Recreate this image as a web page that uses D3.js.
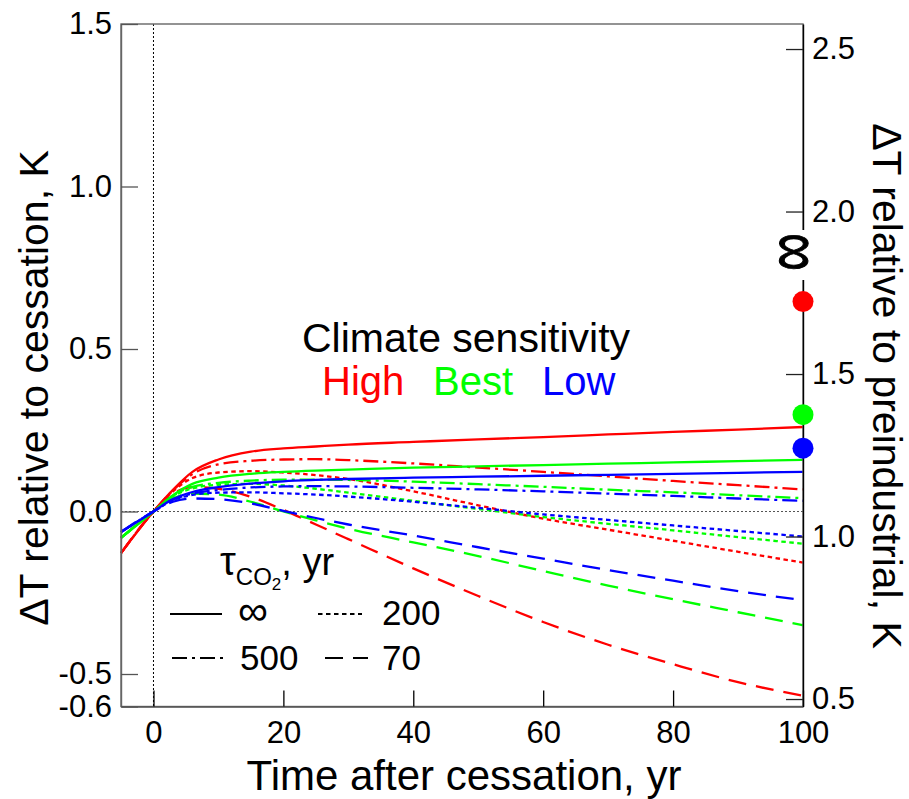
<!DOCTYPE html>
<html>
<head>
<meta charset="utf-8">
<script src="https://cdn.jsdelivr.net/npm/d3@7"></script>
<style>
  html, body { margin: 0; padding: 0; background: #fff; }
  svg { display: block; font-family: "Liberation Sans", Arial, Helvetica, sans-serif; }
</style>
</head>
<body>
<svg id="chart" width="909" height="799"></svg>
<script>
// ---------------- data ----------------
const years = [-5, 0, 3, 6, 10, 15, 20, 25, 30, 40, 50, 60, 70, 80, 90, 100];

// High climate sensitivity (red)
const highInf = [-0.128, 0, 0.067, 0.122, 0.160, 0.184, 0.194, 0.200, 0.206, 0.214, 0.222, 0.229, 0.237, 0.245, 0.252, 0.260];
const high500 = [-0.128, 0, 0.065, 0.115, 0.145, 0.156, 0.160, 0.161, 0.158, 0.148, 0.135, 0.122, 0.108, 0.094, 0.081, 0.068];
const high200 = [-0.128, 0, 0.062, 0.103, 0.120, 0.124, 0.120, 0.112, 0.100, 0.062, 0.019, -0.022, -0.056, -0.090, -0.124, -0.157];
const high70  = [-0.128, 0, 0.055, 0.075, 0.070, 0.045, 0.005, -0.040, -0.085, -0.175, -0.260, -0.340, -0.410, -0.470, -0.525, -0.567];

// Best estimate (green)
const bestInf = [-0.081, 0, 0.050, 0.085, 0.104, 0.116, 0.122, 0.126, 0.129, 0.135, 0.139, 0.143, 0.147, 0.151, 0.155, 0.159];
const best500 = [-0.081, 0, 0.048, 0.076, 0.088, 0.095, 0.098, 0.098, 0.097, 0.092, 0.084, 0.076, 0.067, 0.059, 0.050, 0.041];
const best200 = [-0.081, 0, 0.047, 0.071, 0.082, 0.085, 0.080, 0.070, 0.058, 0.033, 0.008, -0.017, -0.038, -0.058, -0.079, -0.099];
const best70  = [-0.081, 0, 0.040, 0.055, 0.052, 0.030, 0.000, -0.027, -0.053, -0.095, -0.137, -0.183, -0.228, -0.270, -0.310, -0.350];

// Low climate sensitivity (blue)
const lowInf = [-0.063, 0, 0.038, 0.060, 0.075, 0.086, 0.093, 0.097, 0.100, 0.104, 0.107, 0.110, 0.113, 0.116, 0.119, 0.122];
const low500 = [-0.063, 0, 0.036, 0.055, 0.066, 0.074, 0.077, 0.078, 0.077, 0.073, 0.068, 0.062, 0.055, 0.048, 0.040, 0.033];
const low200 = [-0.063, 0, 0.035, 0.051, 0.058, 0.059, 0.056, 0.052, 0.046, 0.030, 0.011, -0.009, -0.026, -0.043, -0.060, -0.077];
const low70  = [-0.063, 0, 0.030, 0.040, 0.038, 0.025, 0.002, -0.020, -0.040, -0.074, -0.110, -0.145, -0.180, -0.213, -0.245, -0.273];

// equilibrium (tau = infinity) warming relative to preindustrial, K
const sensitivities = ["High", "Best", "Low"];
const equilibrium = [1.723, 1.375, 1.272];
const cessationWarming = 1.077; // right axis offset (K relative to preindustrial at cessation)

const tauLabels = ["∞", "200", "500", "70"];
const xTicks = [0, 20, 40, 60, 80, 100];
const yLeftTicks = [1.5, 1.0, 0.5, 0.0, -0.5, -0.6];
const yRightTicks = [0.5, 1.0, 1.5, 2.0, 2.5];

// ---------------- styles ----------------
const colors = { High: "#ff0000", Best: "#00ff00", Low: "#0000ff" };
const dashes = { "∞": null, "500": "15,5,3,5", "200": "4.5,3.5", "70": "18,10" };

const seriesTable = [
  { s: "High", tau: "∞", v: highInf }, { s: "High", tau: "500", v: high500 },
  { s: "High", tau: "200", v: high200 }, { s: "High", tau: "70", v: high70 },
  { s: "Best", tau: "∞", v: bestInf }, { s: "Best", tau: "500", v: best500 },
  { s: "Best", tau: "200", v: best200 }, { s: "Best", tau: "70", v: best70 },
  { s: "Low", tau: "∞", v: lowInf }, { s: "Low", tau: "500", v: low500 },
  { s: "Low", tau: "200", v: low200 }, { s: "Low", tau: "70", v: low70 }
];

// ---------------- layout ----------------
const L = 121, R = 803, T = 24, B = 706.5;
const svg = d3.select("#chart");
svg.append("rect").attr("width", 909).attr("height", 799).attr("fill", "#fff");

const x = d3.scaleLinear().domain([-5, 100]).range([L, R]);
const y = d3.scaleLinear().domain([-0.6, 1.5]).range([B, T]);
const yR = d3.scaleLinear().domain([-0.6 + cessationWarming, 1.5 + cessationWarming]).range([B, T]);

// reference lines
svg.append("line").attr("x1", L).attr("x2", R).attr("y1", y(0)).attr("y2", y(0))
  .attr("stroke", "#555").attr("stroke-width", 1).attr("stroke-dasharray", "2,2");
svg.append("line").attr("x1", x(0)).attr("x2", x(0)).attr("y1", T).attr("y2", B)
  .attr("stroke", "#000").attr("stroke-width", 1).attr("stroke-dasharray", "2,2");

// curves
const line = d3.line().x((d, i) => x(years[i])).y(d => y(d)).curve(d3.curveMonotoneX);
svg.append("g").selectAll("path").data(seriesTable).join("path")
  .attr("d", d => line(d.v))
  .attr("fill", "none")
  .attr("stroke", d => colors[d.s])
  .attr("stroke-width", 2.3)
  .attr("stroke-dasharray", d => dashes[d.tau]);

// frame
svg.append("rect").attr("x", L).attr("y", T).attr("width", R - L).attr("height", B - T)
  .attr("fill", "none").attr("stroke", "#666").attr("stroke-width", 1.4);

const tickFont = 31;
// left axis
const gL = svg.append("g").attr("transform", `translate(${L},0)`)
  .call(d3.axisLeft(y).tickValues(yLeftTicks).tickFormat(d => d.toFixed(1))
    .tickSizeInner(-17).tickSizeOuter(0).tickPadding(9));
gL.select(".domain").attr("stroke", "#666").attr("stroke-width", 1.4);
gL.selectAll(".tick line").attr("stroke", "#555").attr("stroke-width", 1.3);
gL.selectAll(".tick text").attr("font-size", tickFont).attr("fill", "#000")
  .attr("font-family", "Liberation Sans, Arial, sans-serif");

// bottom axis
const gB = svg.append("g").attr("transform", `translate(0,${B})`)
  .call(d3.axisBottom(x).tickValues(xTicks).tickFormat(d3.format("d"))
    .tickSizeInner(-16).tickSizeOuter(0).tickPadding(14));
gB.select(".domain").attr("stroke", "#555").attr("stroke-width", 1.4);
gB.selectAll(".tick line").attr("stroke", "#000").attr("stroke-width", 1.3);
gB.selectAll(".tick text").attr("font-size", tickFont).attr("fill", "#000")
  .attr("font-family", "Liberation Sans, Arial, sans-serif");

// right axis
const gR = svg.append("g").attr("transform", `translate(${R},0)`)
  .call(d3.axisRight(yR).tickValues(yRightTicks).tickFormat(d => d.toFixed(1))
    .tickSizeInner(-17).tickSizeOuter(0).tickPadding(9));
gR.select(".domain").attr("stroke", "#000").attr("stroke-width", 1.4);
gR.selectAll(".tick line").attr("stroke", "#222").attr("stroke-width", 1.3);
gR.selectAll(".tick text").attr("font-size", tickFont).attr("fill", "#000")
  .attr("font-family", "Liberation Sans, Arial, sans-serif");

// infinity marker on right axis
svg.append("rect").attr("x", R - 14).attr("y", 230).attr("width", 28).attr("height", 50).attr("fill", "#fff");
svg.append("text").attr("transform", `translate(${R - 3},252) rotate(90) scale(1.27,1.8)`)
  .attr("text-anchor", "middle").attr("dy", "0.37em")
  .attr("font-size", 42).attr("stroke", "#000").attr("stroke-width", 0.6)
  .text(tauLabels[0]);

// equilibrium dots
svg.append("g").selectAll("circle").data(equilibrium).join("circle")
  .attr("cx", R).attr("cy", d => yR(d)).attr("r", 10.5)
  .attr("fill", (d, i) => colors[sensitivities[i]]);

// axis titles
svg.append("text").attr("transform", "translate(48,388) rotate(-90)")
  .attr("text-anchor", "middle").attr("font-size", 41).text("ΔT relative to cessation, K");
svg.append("text").attr("transform", "translate(873,386) rotate(90)")
  .attr("text-anchor", "middle").attr("font-size", 41).text("ΔT relative to preindustrial, K");
svg.append("text").attr("x", 464).attr("y", 790)
  .attr("text-anchor", "middle").attr("font-size", 42).text("Time after cessation, yr");

// climate sensitivity legend
svg.append("text").attr("x", 466).attr("y", 352).attr("text-anchor", "middle")
  .attr("font-size", 41).text("Climate sensitivity");
const sensX = [322, 433, 542];
svg.append("g").selectAll("text").data(sensitivities).join("text")
  .attr("x", (d, i) => sensX[i]).attr("y", 395).attr("font-size", 40)
  .attr("fill", d => colors[d]).text(d => d);

// tau legend
const tauTitle = svg.append("text").attr("x", 220).attr("y", 575).attr("font-size", 40);
tauTitle.append("tspan").text("τ");
tauTitle.append("tspan").attr("font-size", 24).attr("dy", 10).text("CO");
tauTitle.append("tspan").attr("font-size", 17).attr("dy", 5).text("2");
tauTitle.append("tspan").attr("font-size", 38).attr("dy", -15).text(", yr");

const legendItems = [
  { tau: "∞", x1: 170, x2: 222, ly: 614, tx: 238, ty: 625, fs: 42 },
  { tau: "200", x1: 318, x2: 362, ly: 614, tx: 382, ty: 625, fs: 35 },
  { tau: "500", x1: 172, x2: 223, ly: 658, tx: 240, ty: 670, fs: 35 },
  { tau: "70", x1: 325, x2: 368, ly: 658, tx: 382, ty: 670, fs: 35 }
];
const lg = svg.append("g");
legendItems.forEach(it => {
  lg.append("line").attr("x1", it.x1).attr("x2", it.x2).attr("y1", it.ly).attr("y2", it.ly)
    .attr("stroke", "#000").attr("stroke-width", 2)
    .attr("stroke-dasharray", dashes[it.tau]);
  lg.append("text").attr("x", it.tx).attr("y", it.ty).attr("font-size", it.fs).text(it.tau);
});
</script>
</body>
</html>
